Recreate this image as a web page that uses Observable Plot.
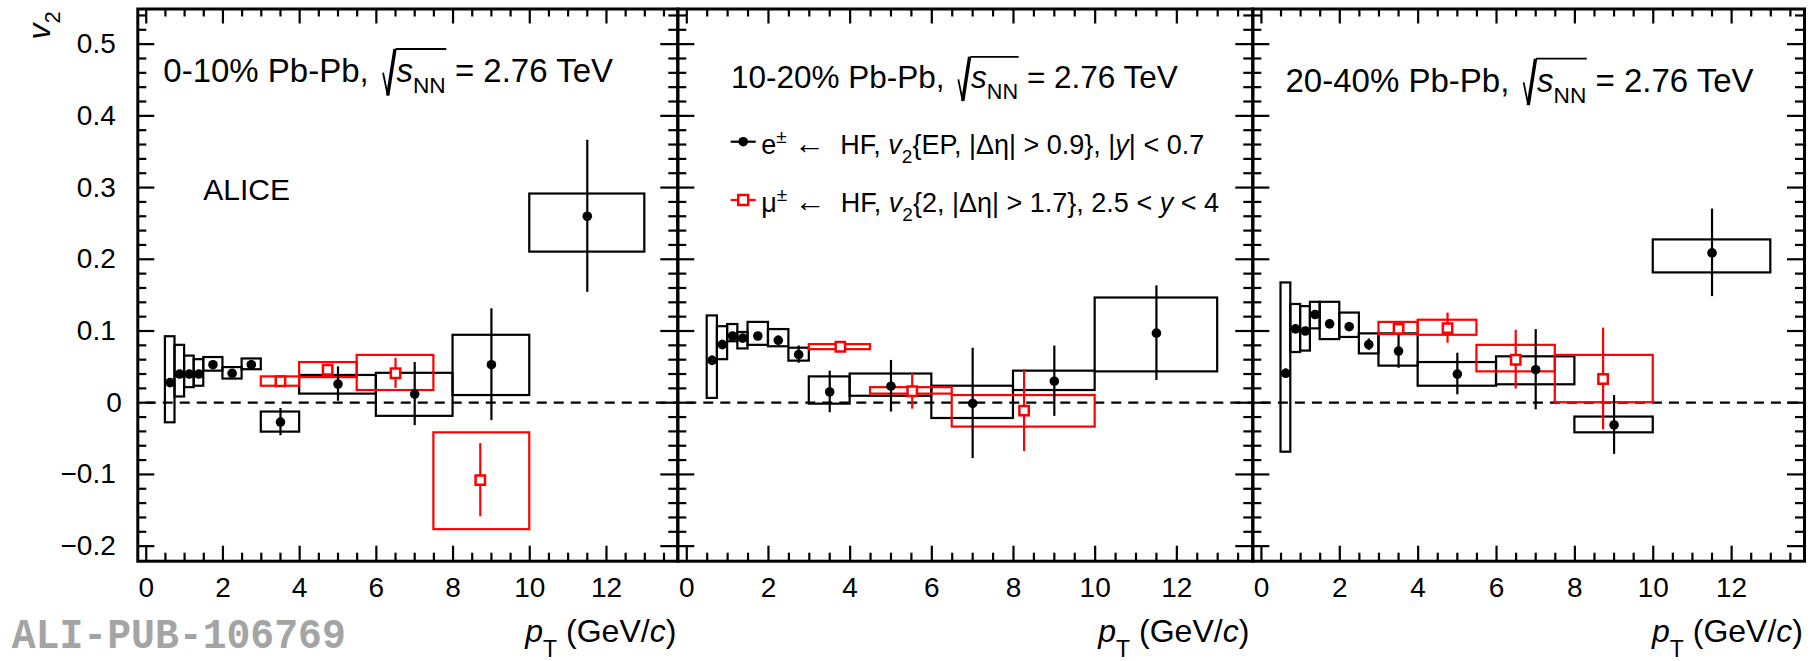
<!DOCTYPE html>
<html>
<head>
<meta charset="utf-8">
<script src="https://cdn.jsdelivr.net/npm/d3@7"></script>
<script src="https://cdn.jsdelivr.net/npm/@observablehq/plot@0.6"></script>
<style>
  html, body { margin: 0; padding: 0; background: #fff; }
  #fig { position: relative; width: 1816px; height: 661px; overflow: hidden; background: #fff; }
  #fig svg { position: absolute; top: 0; overflow: visible; }
  #fig text { white-space: pre; }
</style>
</head>
<body>
<div id="fig"></div>
<script>
// ---------------------------------------------------------------------------
// Elliptic flow v2 of heavy-flavour decay leptons, Pb-Pb at 2.76 TeV
// ---------------------------------------------------------------------------

// Axis ticks and labels
const xTicks = [0, 2, 4, 6, 8, 10, 12];
const yTicks = [-0.2, -0.1, 0, 0.1, 0.2, 0.3, 0.4, 0.5];
const yTickLabels = ["\u22120.2", "\u22120.1", "0", "0.1", "0.2", "0.3", "0.4", "0.5"];
const xDomain = [-0.22, 13.86];
const yDomain = [-0.221, 0.549];

// Centrality classes
const centralities = ["0-10%", "10-20%", "20-40%"];

// e± ← HF, pT bins (GeV/c) and mean pT
const eBinLo = [0.5, 0.75, 1.0, 1.25, 1.5, 2.0, 2.5, 3, 4, 6, 8, 10];
const eBinHi = [0.75, 1.0, 1.25, 1.5, 2.0, 2.5, 3.0, 4, 6, 8, 10, 13];
const ePt    = [0.62, 0.87, 1.12, 1.37, 1.74, 2.24, 2.74, 3.5, 5.0, 7.0, 9.0, 11.5];

// e± ← HF, 0-10%
const e010V2    = [0.028, 0.040, 0.040, 0.040, 0.053, 0.041, 0.053, -0.027, 0.026, 0.012, 0.053, 0.260];
const e010Stat  = [0.004, 0.004, 0.004, 0.004, 0.005, 0.005, 0.006, 0.019, 0.024, 0.044, 0.078, 0.106];
const e010SysLo = [-0.028, 0.008, 0.021, 0.023, 0.044, 0.033, 0.046, -0.041, 0.012, -0.019, 0.010, 0.210];
const e010SysHi = [0.092, 0.080, 0.065, 0.060, 0.063, 0.049, 0.061, -0.013, 0.038, 0.041, 0.094, 0.291];

// e± ← HF, 10-20%
const e1020V2    = [0.059, 0.081, 0.093, 0.090, 0.093, 0.087, 0.067, 0.015, 0.023, -0.001, 0.030, 0.097];
const e1020Stat  = [0.006, 0.006, 0.005, 0.005, 0.005, 0.006, 0.012, 0.029, 0.036, 0.077, 0.049, 0.066];
const e1020SysLo = [0.006, 0.060, 0.085, 0.075, 0.080, 0.078, 0.058, -0.002, 0.009, -0.022, 0.017, 0.043];
const e1020SysHi = [0.121, 0.106, 0.109, 0.098, 0.112, 0.102, 0.076, 0.036, 0.040, 0.023, 0.044, 0.146];

// e± ← HF, 20-40%
const e2040V2    = [0.041, 0.103, 0.100, 0.123, 0.110, 0.106, 0.081, 0.072, 0.040, 0.046, -0.031, 0.209];
const e2040Stat  = [0.006, 0.005, 0.005, 0.005, 0.005, 0.006, 0.008, 0.024, 0.029, 0.056, 0.041, 0.061];
const e2040SysLo = [-0.069, 0.070, 0.072, 0.103, 0.088, 0.091, 0.068, 0.051, 0.023, 0.025, -0.042, 0.181];
const e2040SysHi = [0.167, 0.137, 0.134, 0.140, 0.140, 0.125, 0.096, 0.096, 0.056, 0.064, -0.020, 0.227];

// μ± ← HF, 0-10%
const mu010Lo    = [3, 4, 5.5, 7.5];
const mu010Hi    = [4, 5.5, 7.5, 10];
const mu010Pt    = [3.5, 4.73, 6.5, 8.71];
const mu010V2    = [0.030, 0.046, 0.041, -0.108];
const mu010Stat  = [0.003, 0.005, 0.021, 0.051];
const mu010SysLo = [0.023, 0.035, 0.017, -0.177];
const mu010SysHi = [0.036, 0.056, 0.066, -0.042];

// μ± ← HF, 10-20%
const mu1020Lo    = [3, 4.5, 6.5];
const mu1020Hi    = [4.5, 6.5, 10];
const mu1020Pt    = [3.76, 5.52, 8.26];
const mu1020V2    = [0.078, 0.016, -0.011];
const mu1020Stat  = [0.003, 0.025, 0.057];
const mu1020SysLo = [0.074, 0.012, -0.034];
const mu1020SysHi = [0.081, 0.021, 0.010];

// μ± ← HF, 20-40%
const mu2040Lo    = [3, 4, 5.5, 7.5];
const mu2040Hi    = [4, 5.5, 7.5, 10];
const mu2040Pt    = [3.5, 4.75, 6.49, 8.72];
const mu2040V2    = [0.103, 0.104, 0.060, 0.033];
const mu2040Stat  = [0.004, 0.021, 0.041, 0.071];
const mu2040SysLo = [0.095, 0.094, 0.043, 0.000];
const mu2040SysHi = [0.112, 0.115, 0.080, 0.066];

// ---------------------------------------------------------------------------
const SVG_NS = "http://www.w3.org/2000/svg";
const FONT = '"Liberation Sans", Arial, Helvetica, sans-serif';
const RED = "#ff0000";
const H = 661;
const FRAME_TOP = 8.5, FRAME_BOTTOM = 560.7;

function table(lo, hi, pt, v2, stat, sysLo, sysHi) {
  return pt.map((p, i) => ({lo: lo[i], hi: hi[i], pt: p, v2: v2[i], stat: stat[i], sysLo: sysLo[i], sysHi: sysHi[i]}));
}

// Text with italic / sub- / superscript runs
function richText(doc, {x, y, size, anchor = "start", rotate = 0, fill = "black", family, weight, radical = false, textLength, parts}) {
  const text = doc.createElementNS(SVG_NS, "text");
  const tf = `translate(${x},${y})` + (rotate ? ` rotate(${rotate})` : "");
  text.setAttribute("transform", tf);
  text.setAttribute("font-size", size);
  text.setAttribute("text-anchor", anchor);
  text.setAttribute("fill", fill);
  if (family) text.setAttribute("font-family", family);
  if (weight) text.setAttribute("font-weight", weight);
  if (radical) text.setAttribute("data-radical", size);
  if (textLength) { text.setAttribute("textLength", textLength); text.setAttribute("lengthAdjust", "spacingAndGlyphs"); }
  let shift = 0;
  for (const p of parts) {
    const ts = doc.createElementNS(SVG_NS, "tspan");
    const s = p.shift || 0;
    if (s !== shift) { ts.setAttribute("dy", s - shift); shift = s; }
    if (p.dx) ts.setAttribute("dx", p.dx);
    if (p.size) ts.setAttribute("font-size", p.size);
    if (p.italic) ts.setAttribute("font-style", "italic");
    if (p.rad) ts.setAttribute("class", "rad");
    ts.textContent = p.t;
    text.appendChild(ts);
  }
  return text;
}

function titleParts(cent, size) {
  const k = size / 32;
  return [
    {t: `${cent} Pb-Pb, `},
    {t: "s", italic: true, dx: 18 * k, rad: true},
    {t: "NN", size: 22 * k, shift: 11 * k, rad: true},
    {t: " = 2.76 TeV", shift: 0}
  ];
}

const ptLabelParts = [
  {t: "p", italic: true},
  {t: "T", size: 23, shift: 15},
  {t: " (GeV/", shift: 0},
  {t: "c", italic: true},
  {t: ")"}
];

function legendParts(particle, method, range) {
  return [
    {t: particle}, {t: "\u00b1", size: 19, shift: -11},
    {t: " ", shift: 0}, {t: "\u2190", size: 31}, {t: "  HF, "},
    {t: "v", italic: true}, {t: "2", size: 19, shift: 9},
    ...method, ...range
  ];
}

// A mark that draws annotations positioned relative to the frame
function annotate(build) {
  return (index, scales, values, dims, context) => {
    const doc = context.document;
    const g = doc.createElementNS(SVG_NS, "g");
    g.setAttribute("transform", `translate(${dims.marginLeft},${dims.marginTop})`);
    const fw = dims.width - dims.marginLeft - dims.marginRight;
    const fh = dims.height - dims.marginTop - dims.marginBottom;
    build(g, doc, fw, fh);
    return g;
  };
}

function panel({left, right, svgLeft, svgRight, e, mu, showY, notes}) {
  const W = svgRight - svgLeft;
  const fw = right - left, fh = FRAME_BOTTOM - FRAME_TOP;
  const xMinor = d3.range(1, 28).map(k => k * 0.5).filter(v => v % 2 !== 0);
  const yMinor = d3.range(-10, 28).filter(k => k % 5 !== 0).map(k => k * 0.02);
  const tick = {stroke: "black", strokeWidth: 2.2};
  const svg = Plot.plot({
    width: W,
    height: H,
    marginLeft: left - svgLeft,
    marginRight: svgRight - right,
    marginTop: FRAME_TOP,
    marginBottom: H - FRAME_BOTTOM,
    style: {background: "transparent", overflow: "visible", fontFamily: FONT, fontSize: "28px", color: "black"},
    x: {domain: xDomain, ticks: xTicks, tickSize: 0, tickPadding: 16, tickFormat: d => String(d), label: null},
    y: showY
      ? {domain: yDomain, ticks: yTicks, tickSize: 0, tickPadding: 22, tickFormat: d => yTickLabels[yTicks.indexOf(d)], label: null}
      : {domain: yDomain, axis: null},
    marks: [
      Plot.ruleY([0], {x1: 0, x2: xDomain[1], stroke: "black", strokeWidth: 2.3, strokeDasharray: "10 7"}),
      // systematic boxes
      Plot.rect(e, {x1: "lo", x2: "hi", y1: "sysLo", y2: "sysHi", fill: "none", stroke: "black", strokeWidth: 2.2}),
      Plot.rect(mu, {x1: "lo", x2: "hi", y1: "sysLo", y2: "sysHi", fill: "none", stroke: RED, strokeWidth: 2.2}),
      // statistical errors and points
      Plot.ruleX(e, {x: "pt", y1: d => d.v2 - d.stat, y2: d => d.v2 + d.stat, stroke: "black", strokeWidth: 2.2}),
      Plot.dot(e, {x: "pt", y: "v2", r: 4.8, fill: "black", stroke: "none"}),
      Plot.ruleX(mu, {x: "pt", y1: d => d.v2 - d.stat, y2: d => d.v2 + d.stat, stroke: RED, strokeWidth: 2.2}),
      Plot.dot(mu, {x: "pt", y: "v2", symbol: "square", r: 5.3, fill: "white", stroke: RED, strokeWidth: 2.5}),
      // tick marks on all four sides, pointing inwards
      Plot.tickX(xTicks, {...tick, insetTop: fh - 15}),
      Plot.tickX(xTicks, {...tick, insetBottom: fh - 15}),
      Plot.tickX(xMinor, {...tick, insetTop: fh - 8}),
      Plot.tickX(xMinor, {...tick, insetBottom: fh - 8}),
      Plot.tickY(yTicks, {...tick, insetRight: fw - 17}),
      Plot.tickY(yTicks, {...tick, insetLeft: fw - 17}),
      Plot.tickY(yMinor, {...tick, insetRight: fw - 9}),
      Plot.tickY(yMinor, {...tick, insetLeft: fw - 9}),
      Plot.frame({stroke: "black", strokeWidth: 3}),
      annotate(notes)
    ]
  });
  svg.style.left = svgLeft + "px";
  return svg;
}

const fig = document.getElementById("fig");

// 0-10%
fig.appendChild(panel({
  left: 137.3, right: 677.3, svgLeft: 0, svgRight: 700, showY: true,
  e: table(eBinLo, eBinHi, ePt, e010V2, e010Stat, e010SysLo, e010SysHi),
  mu: table(mu010Lo, mu010Hi, mu010Pt, mu010V2, mu010Stat, mu010SysLo, mu010SysHi),
  notes: (g, doc, fw, fh) => {
    g.appendChild(richText(doc, {x: 26, y: 73.5, size: 33, radical: true, parts: titleParts(centralities[0], 33)}));
    g.appendChild(richText(doc, {x: 66, y: 191.5, size: 30, parts: [{t: "ALICE"}]}));
    g.appendChild(richText(doc, {x: fw - 1, y: 633, size: 32, anchor: "end", parts: ptLabelParts}));
    g.appendChild(richText(doc, {x: -87, y: 31, size: 32, rotate: -90, anchor: "start", parts: [
      {t: "v", italic: true}, {t: "2", size: 22, shift: 10}
    ]}));
    g.appendChild(richText(doc, {x: -125.5, y: 639.5, size: 42, fill: "#a4a4a4", textLength: 334,
      family: '"Liberation Mono", "Courier New", monospace', weight: "bold", parts: [{t: "ALI-PUB-106769"}]}));
  }
}));

// 10-20%
fig.appendChild(panel({
  left: 677.3, right: 1252.3, svgLeft: 600, svgRight: 1270, showY: false,
  e: table(eBinLo, eBinHi, ePt, e1020V2, e1020Stat, e1020SysLo, e1020SysHi),
  mu: table(mu1020Lo, mu1020Hi, mu1020Pt, mu1020V2, mu1020Stat, mu1020SysLo, mu1020SysHi),
  notes: (g, doc, fw, fh) => {
    g.appendChild(richText(doc, {x: 53.7, y: 79.8, size: 31.5, radical: true, parts: titleParts(centralities[1], 31.5)}));
    // legend
    const line = (y, color) => {
      const l = doc.createElementNS(SVG_NS, "line");
      l.setAttribute("x1", 53.4); l.setAttribute("x2", 78.4);
      l.setAttribute("y1", y); l.setAttribute("y2", y);
      l.setAttribute("stroke", color); l.setAttribute("stroke-width", 2.2);
      g.appendChild(l);
    };
    line(133.2, "black");
    const c = doc.createElementNS(SVG_NS, "circle");
    c.setAttribute("cx", 65.9); c.setAttribute("cy", 133.2); c.setAttribute("r", 4.8);
    g.appendChild(c);
    line(191.5, RED);
    const sq = doc.createElementNS(SVG_NS, "rect");
    sq.setAttribute("x", 65.9 - 5); sq.setAttribute("y", 191.5 - 5);
    sq.setAttribute("width", 10); sq.setAttribute("height", 10);
    sq.setAttribute("fill", "white"); sq.setAttribute("stroke", RED); sq.setAttribute("stroke-width", 2.5);
    g.appendChild(sq);
    g.appendChild(richText(doc, {x: 84, y: 145.8, size: 27, parts: legendParts("e",
      [{t: "{EP, |\u0394\u03b7| > 0.9}, |", shift: 0}],
      [{t: "y", italic: true}, {t: "| < 0.7"}])}));
    g.appendChild(richText(doc, {x: 84, y: 203.8, size: 27, parts: legendParts("\u03bc",
      [{t: "{2, |\u0394\u03b7| > 1.7}, 2.5 < ", shift: 0}],
      [{t: "y", italic: true}, {t: " < 4"}])}));
    g.appendChild(richText(doc, {x: fw - 3, y: 633, size: 32, anchor: "end", parts: ptLabelParts}));
  }
}));

// 20-40%
fig.appendChild(panel({
  left: 1252.3, right: 1804, svgLeft: 1180, svgRight: 1816, showY: false,
  e: table(eBinLo, eBinHi, ePt, e2040V2, e2040Stat, e2040SysLo, e2040SysHi),
  mu: table(mu2040Lo, mu2040Hi, mu2040Pt, mu2040V2, mu2040Stat, mu2040SysLo, mu2040SysHi),
  notes: (g, doc, fw, fh) => {
    g.appendChild(richText(doc, {x: 33.2, y: 83.2, size: 33, radical: true, parts: titleParts(centralities[2], 33)}));
    g.appendChild(richText(doc, {x: fw - 1, y: 633, size: 32, anchor: "end", parts: ptLabelParts}));
  }
}));

// The "0" label of the v2 axis sits slightly to the right of the others
fig.querySelectorAll('g[aria-label="y-axis tick label"] text').forEach(t => {
  if (t.textContent === "0") t.setAttribute("dx", 6);
});

// Square-root signs over the "s_NN" runs of the titles
fig.querySelectorAll("text[data-radical]").forEach(text => {
  const k = +text.getAttribute("data-radical") / 32;
  let idx = 0, first = -1, last = -1;
  for (const ts of text.querySelectorAll("tspan")) {
    const n = ts.textContent.length;
    if (ts.classList.contains("rad")) { if (first < 0) first = idx; last = idx + n - 1; }
    idx += n;
  }
  if (first < 0) return;
  const a = text.getExtentOfChar(first), b = text.getExtentOfChar(last);
  const sx = a.x, ex = b.x + b.width;
  const top = -32 * k, bot = 13 * k;
  const p = document.createElementNS(SVG_NS, "path");
  p.setAttribute("transform", text.getAttribute("transform"));
  p.setAttribute("d", `M${sx - 13 * k},${-9 * k} L${sx - 8.5 * k},${bot} M${sx - 1},${top} L${ex + 0.5},${top}`);
  p.setAttribute("fill", "none"); p.setAttribute("stroke", "black"); p.setAttribute("stroke-width", 1.8);
  text.parentNode.appendChild(p);
  const s = document.createElementNS(SVG_NS, "path");
  s.setAttribute("transform", text.getAttribute("transform"));
  s.setAttribute("d", `M${sx - 8.5 * k},${bot} L${sx - 1.5},${top}`);
  s.setAttribute("fill", "none"); s.setAttribute("stroke", "black"); s.setAttribute("stroke-width", 3.4);
  text.parentNode.appendChild(s);
});
</script>
</body>
</html>
